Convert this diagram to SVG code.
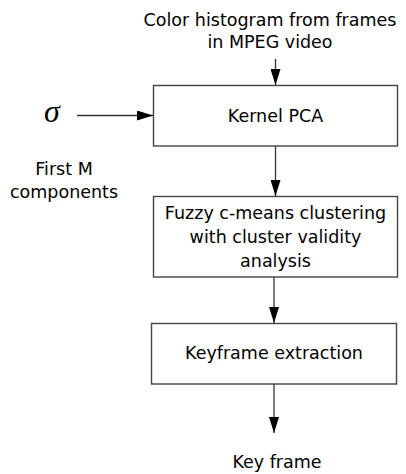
<svg xmlns="http://www.w3.org/2000/svg" width="406" height="474" viewBox="0 0 406 474">
<style>
.box{fill:#fff;stroke:#444;stroke-width:1.4}
.t{font-family:"DejaVu Sans",Verdana,sans-serif;font-size:17.5px;fill:#000;text-anchor:middle}
.c{stroke:#333;stroke-width:1.3;fill:none}
.sig{font-family:"Liberation Serif","Times New Roman",serif;font-style:italic;font-size:32px;fill:#000}
</style>
<defs>
<marker id="ah" viewBox="0 0 16 10" refX="16" refY="5" markerWidth="16" markerHeight="10" markerUnits="userSpaceOnUse" orient="auto">
<path d="M0,0 L16,5 L0,10 Z" fill="#000"/>
</marker>
</defs>
<rect width="406" height="474" fill="#fff"/>
<g id="input">
<text class="t" x="270" y="25.5">Color histogram from frames</text>
<text class="t" x="270" y="48">in MPEG video</text>
</g>
<g id="sigma">
<text class="sig" x="44" y="122">σ</text>
</g>
<g id="firstm">
<text class="t" x="64" y="175">First M</text>
<text class="t" x="64" y="198">components</text>
</g>
<g id="kpca">
<rect class="box" x="153.5" y="85.5" width="244" height="60.5"/>
<text class="t" x="275.5" y="122">Kernel PCA</text>
</g>
<g id="fcm">
<rect class="box" x="153.5" y="196.5" width="244" height="80.5"/>
<text class="t" x="275.5" y="218.5">Fuzzy c-means clustering</text>
<text class="t" x="275.5" y="242.5">with cluster validity</text>
<text class="t" x="275.5" y="266.5">analysis</text>
</g>
<g id="kfe">
<rect class="box" x="151.5" y="323.5" width="245" height="60.5"/>
<text class="t" x="274" y="359">Keyframe extraction</text>
</g>
<g id="output">
<text class="t" x="277" y="468">Key frame</text>
</g>
<g id="connectors">
<line class="c" x1="275.5" y1="59" x2="275.5" y2="85" marker-end="url(#ah)"/>
<line class="c" x1="77" y1="115.5" x2="153" y2="115.5" marker-end="url(#ah)"/>
<line class="c" x1="275.5" y1="146" x2="275.5" y2="196" marker-end="url(#ah)"/>
<line class="c" x1="274" y1="277" x2="274" y2="323" marker-end="url(#ah)"/>
<line class="c" x1="274" y1="384" x2="274" y2="433" marker-end="url(#ah)"/>
</g>
</svg>
